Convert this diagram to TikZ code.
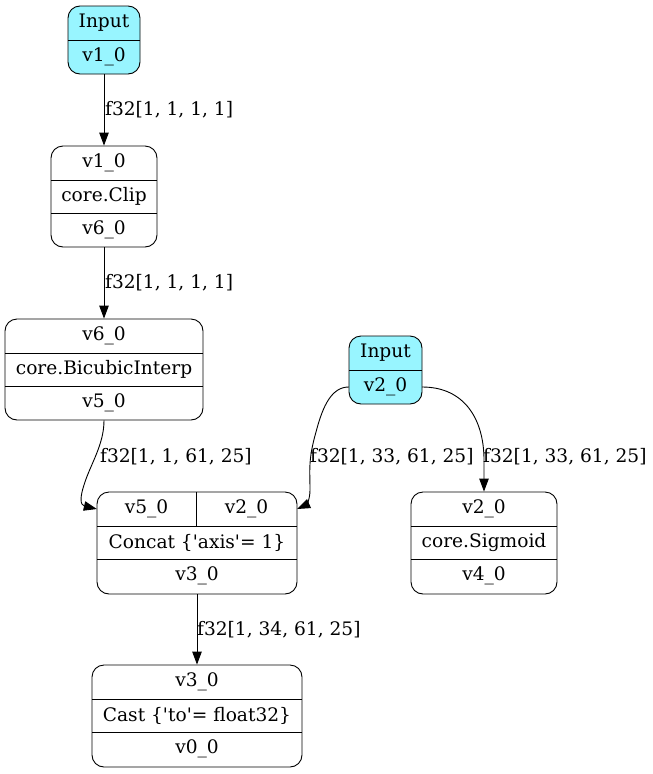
\documentclass[tikz,border=0pt]{standalone}
\usepackage{fontspec}
\setmainfont{DejaVu Serif}[Ligatures=TeXOff]
\usetikzlibrary{arrows.meta}
\definecolor{infill}{HTML}{98F5FF}
\tikzset{
  x=1pt, y=-1pt,
  rec/.style={draw, rounded corners=12pt, inner sep=0pt, line width=0.9pt},
  inrec/.style={rec, fill=infill},
  row/.style={inner sep=0pt, font=\fontsize{18.6}{21}\selectfont},
  lbl/.style={anchor=west, inner sep=0pt, font=\fontsize{18.6}{21}\selectfont},
  div/.style={line width=0.9pt},
  arr/.style={-{Triangle[length=13pt,width=9.5pt]}, line width=0.9pt},
}
\begin{document}
\begin{tikzpicture}
\useasboundingbox (0,0) rectangle (653,774);
% Input 1
\node[inrec, minimum width=72pt, minimum height=68pt] (in1) at (104,40) {};
\draw[div] (68,40) -- (140,40);
\node[row] (in1a) at (104,22.5) {Input};
\node[row] (in1b) at (104,57) {v1\_0};
% Clip
\node[rec, minimum width=106pt, minimum height=101pt] (clip) at (104,196.5) {};
\draw[div] (51,180) -- (157,180);
\draw[div] (51,213) -- (157,213);
\node[row] (clipa) at (104,163) {v1\_0};
\node[row] (clipb) at (104,196.5) {core.Clip};
\node[row] (clipc) at (104,230) {v6\_0};
% Bicubic
\node[rec, minimum width=198pt, minimum height=101pt] (bic) at (104,369.5) {};
\draw[div] (5,353) -- (203,353);
\draw[div] (5,386) -- (203,386);
\node[row] (bica) at (104,336) {v6\_0};
\node[row] (bicb) at (104,369.5) {core.BicubicInterp};
\node[row] (bicc) at (104,403) {v5\_0};
% Input 2
\node[inrec, minimum width=73pt, minimum height=68pt] (in2) at (385.5,370) {};
\draw[div] (349,370) -- (422,370);
\node[row] (in2a) at (385.5,352.5) {Input};
\node[row, minimum width=73pt, minimum height=34pt] (in2b) at (385.5,387) {v2\_0};
% Concat
\node[rec, minimum width=200pt, minimum height=102pt] (cat) at (197,543) {};
\draw[div] (97,526) -- (297,526);
\draw[div] (97,559) -- (297,559);
\draw[div] (196,492) -- (196,526);
\node[row, minimum width=99pt, minimum height=34pt] (cata) at (146.5,509) {v5\_0};
\node[row, minimum width=101pt, minimum height=34pt] (catb) at (246.5,509) {v2\_0};
\node[row] (catc) at (197,542.5) {Concat \{'axis'= 1\}};
\node[row] (catd) at (197,576) {v3\_0};
% Sigmoid
\node[rec, minimum width=146pt, minimum height=102pt] (sig) at (484,543) {};
\draw[div] (411,526) -- (557,526);
\draw[div] (411,559) -- (557,559);
\node[row] (siga) at (484,509) {v2\_0};
\node[row] (sigb) at (484,542.5) {core.Sigmoid};
\node[row] (sigc) at (484,576) {v4\_0};
% Cast
\node[rec, minimum width=210pt, minimum height=102pt] (cast) at (197,716) {};
\draw[div] (92,699) -- (302,699);
\draw[div] (92,732) -- (302,732);
\node[row] (casta) at (197,682) {v3\_0};
\node[row] (castb) at (197,715.5) {Cast \{'to'= float32\}};
\node[row] (castc) at (197,749) {v0\_0};
% Edges
\draw[arr] (in1.south) -- (clip.north);
\node[lbl] (l1) at (105,110) {f32[1, 1, 1, 1]};
\draw[arr] (clip.south) -- (bic.north);
\node[lbl] (l2) at (105,283) {f32[1, 1, 1, 1]};
\draw[arr] (bic.south) .. controls (104,445) and (90,465) .. (84,485) .. controls (80,497) and (80,505) .. (cata.west);
\node[lbl] (l3) at (100,457) {f32[1, 1, 61, 25]};
\draw[arr] (in2b.west) .. controls (332,387) and (323,405) .. (316,432) .. controls (308,460) and (310,470) .. (310,490) .. controls (310,500) and (306,505) .. (catb.east);
\node[lbl] (l4) at (310,457) {f32[1, 33, 61, 25]};
\draw[arr] (in2b.east) .. controls (465,387) and (484,420) .. (484,460) -- (sig.north);
\node[lbl] (l5) at (483,457) {f32[1, 33, 61, 25]};
\draw[arr] (cat.south) -- (cast.north);
\node[lbl] (l6) at (197,630) {f32[1, 34, 61, 25]};
\end{tikzpicture}
\end{document}
